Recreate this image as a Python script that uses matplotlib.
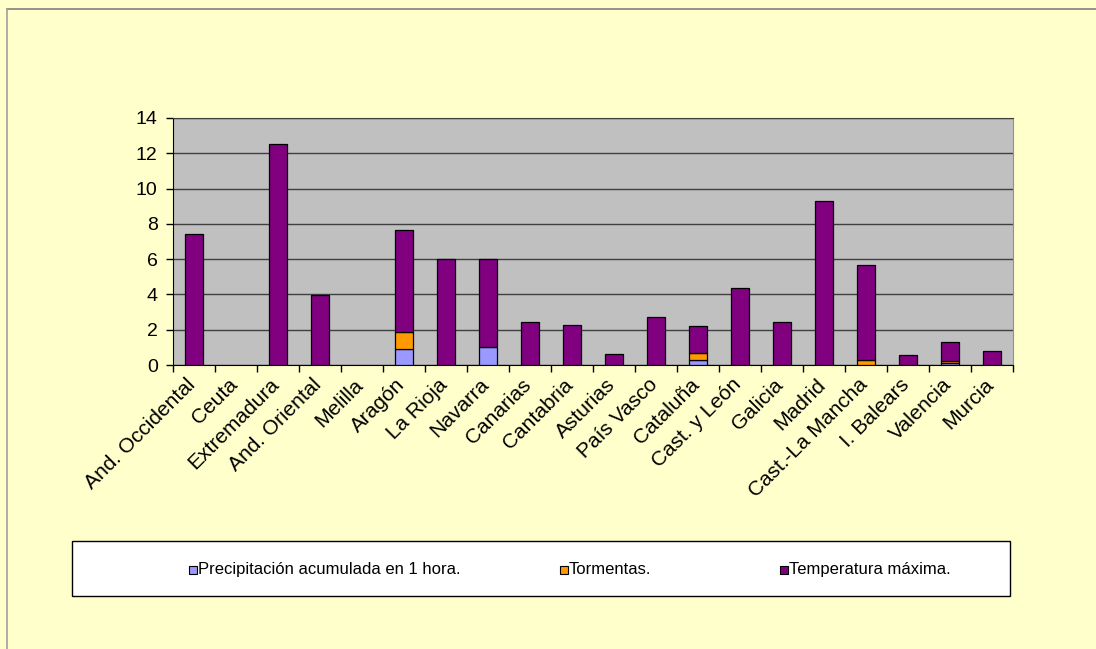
import matplotlib.pyplot as plt
import numpy as np
from matplotlib.patches import Rectangle
from matplotlib.lines import Line2D

plt.rcParams['font.family'] = ['Liberation Sans', 'DejaVu Sans']

# data
categories = ['And. Occidental', 'Ceuta', 'Extremadura', 'And. Oriental', 'Melilla',
              'Aragón', 'La Rioja', 'Navarra', 'Canarias', 'Cantabria', 'Asturias',
              'País Vasco', 'Cataluña', 'Cast. y León', 'Galicia', 'Madrid',
              'Cast.-La Mancha', 'I. Balears', 'Valencia', 'Murcia']
precipitacion = [0, 0, 0, 0, 0, 0.9, 0, 1.0, 0, 0, 0, 0, 0.3, 0, 0, 0, 0, 0, 0.1, 0]
tormentas = [0, 0, 0, 0, 0, 0.95, 0, 0, 0, 0, 0, 0, 0.4, 0, 0, 0, 0.3, 0, 0.1, 0]
temperatura = [7.4, 0, 12.5, 3.95, 0, 5.8, 6.0, 5.0, 2.45, 2.25, 0.6, 2.7, 1.5,
               4.35, 2.45, 9.3, 5.35, 0.55, 1.1, 0.8]
series_names = ['Precipitación acumulada en 1 hora.', 'Tormentas.', 'Temperatura máxima.']
colors = ['#9999FF', '#FF9900', '#800080']

fig = plt.figure(figsize=(10.96, 6.49), dpi=100)
fig.patch.set_facecolor('#FFFFCC')

W, H = 1096, 649
ax = fig.add_axes([173 / W, 1 - 365 / H, (1013 - 173) / W, (365 - 118) / H])
ax.set_facecolor('#C0C0C0')

x = np.arange(len(categories))
p = np.array(precipitacion, dtype=float)
t = np.array(tormentas, dtype=float)
m = np.array(temperatura, dtype=float)
bw = 0.43
# empty segments are not drawn
ax.bar(x, np.where(p > 0, p, np.nan), bw, color=colors[0], edgecolor='black',
       linewidth=0.9, zorder=3)
ax.bar(x, np.where(t > 0, t, np.nan), bw, bottom=p, color=colors[1],
       edgecolor='black', linewidth=0.9, zorder=3)
ax.bar(x, np.where(m > 0, m, np.nan), bw, bottom=p + t, color=colors[2],
       edgecolor='black', linewidth=0.9, zorder=3)

ax.set_xlim(-0.5, len(categories) - 0.5)
ax.set_ylim(0, 14)
ax.set_yticks(range(0, 15, 2))
ax.yaxis.grid(True, color='#404040', linewidth=1.0, zorder=1)
ax.tick_params(axis='y', direction='out', length=5, width=1, labelsize=14, pad=6)

# category boundary ticks and rotated labels
ax.set_xticks(np.arange(len(categories) + 1) - 0.5)
ax.set_xticklabels([])
ax.tick_params(axis='x', direction='out', length=5, width=1)
for i, name in enumerate(categories):
    ax.annotate(name, xy=(i, 0), xycoords=('data', 'axes fraction'),
                xytext=(5, -10), textcoords='offset pixels',
                rotation=45, ha='right', va='top', fontsize=15)

ax.spines['right'].set_color('#909090')
ax.spines['top'].set_color('#404040')
ax.spines['left'].set_color('black')
ax.spines['bottom'].set_color('black')

# legend box
fig.patches.append(Rectangle((72 / W, 1 - 596 / H), (1010 - 72) / W, 55 / H,
                             transform=fig.transFigure, facecolor='white',
                             edgecolor='black', linewidth=1.0))
leg_x = [189, 560, 780]
for xs, name, c in zip(leg_x, series_names, colors):
    fig.patches.append(Rectangle((xs / W, 1 - 574 / H), 8 / W, 8 / H,
                                 transform=fig.transFigure, facecolor=c,
                                 edgecolor='black', linewidth=0.8))
    fig.text((xs + 9) / W, 1 - 574 / H, name, fontsize=12, va='baseline', ha='left')

# chart area border
fig.add_artist(Line2D([7 / W, 1], [1 - 9 / H, 1 - 9 / H], color='#808080',
                      linewidth=1.2, transform=fig.transFigure))
fig.add_artist(Line2D([7 / W, 7 / W], [1 - 9 / H, 0], color='#A0A0A0',
                      linewidth=1.2, transform=fig.transFigure))

fig.savefig('out.png', dpi=100, facecolor=fig.get_facecolor())
